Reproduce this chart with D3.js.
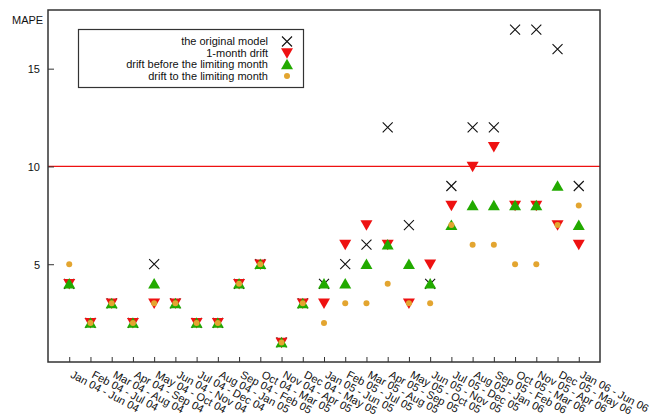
<!DOCTYPE html>
<html>
<head>
<meta charset="utf-8">
<script src="https://cdn.jsdelivr.net/npm/d3@7"></script>
<style>
  html, body { margin: 0; padding: 0; background: #fff; }
  text { font-family: "Liberation Sans", Arial, sans-serif; font-size: 11px; fill: #111; }
</style>
</head>
<body>
<svg id="chart" width="651" height="417"></svg>
<script>
// Rolling six-month evaluation windows
const windows = [
  "Jan 04 - Jun 04", "Feb 04 - Jul 04", "Mar 04 - Aug 04", "Apr 04 - Sep 04",
  "May 04 - Oct 04", "Jun 04 - Nov 04", "Jul 04 - Dec 04", "Aug 04 - Jan 05",
  "Sep 04 - Feb 05", "Oct 04 - Mar 05", "Nov 04 - Apr 05", "Dec 04 - May 05",
  "Jan 05 - Jun 05", "Feb 05 - Jul 05", "Mar 05 - Aug 05", "Apr 05 - Sep 05",
  "May 05 - Oct 05", "Jun 05 - Nov 05", "Jul 05 - Dec 05", "Aug 05 - Jan 06",
  "Sep 05 - Feb 06", "Oct 05 - Mar 06", "Nov 05 - Apr 06", "Dec 05 - May 06",
  "Jan 06 - Jun 06"
];

// MAPE per window for each model variant
const originalModel  = [4, 2, 3, 2, 5, 3, 2, 2, 4, 5, 1, 3, 4, 5, 6, 12, 7, 4, 9, 12, 12, 17, 17, 16, 9];
const oneMonthDrift  = [4, 2, 3, 2, 3, 3, 2, 2, 4, 5, 1, 3, 3, 6, 7, 6, 3, 5, 8, 10, 11, 8, 8, 7, 6];
const driftBefore    = [4, 2, 3, 2, 4, 3, 2, 2, 4, 5, 1, 3, 4, 4, 5, 6, 5, 4, 7, 8, 8, 8, 8, 9, 7];
const driftToLimit   = [5, 2, 3, 2, 3, 3, 2, 2, 4, 5, 1, 3, 2, 3, 3, 4, 3, 3, 7, 6, 6, 5, 5, 7, 8];

const yTicks = [5, 10, 15];
const threshold = 10;

const legendLabels = [
  "the original model",
  "1-month drift",
  "drift before the limiting month",
  "drift to the limiting month"
];

const margin = { left: 48, top: 10, right: 600, bottom: 362 };
const svg = d3.select("#chart");

const x = d3.scaleLinear().domain([-1, windows.length]).range([margin.left, margin.right]);
const y = d3.scaleLinear().domain([0, 18]).range([margin.bottom, margin.top]);

const RED = "#ee1111", GREEN = "#22aa00", ORANGE = "#e3a530";

// threshold line
svg.append("line")
  .attr("x1", margin.left).attr("x2", margin.right)
  .attr("y1", y(threshold)).attr("y2", y(threshold))
  .attr("stroke", RED).attr("stroke-width", 1.2);

// axes with inward ticks
const xAxis = d3.axisBottom(x)
  .tickValues(d3.range(windows.length))
  .tickSizeInner(-5).tickSizeOuter(0)
  .tickFormat(i => windows[i]);
const gx = svg.append("g").attr("transform", `translate(0,${margin.bottom})`).call(xAxis);
gx.select(".domain").remove();
gx.selectAll(".tick line").attr("stroke", "#333");
gx.selectAll(".tick text")
  .attr("text-anchor", "start")
  .attr("y", 0).attr("dy", 0)
  .attr("transform", "translate(0,15) rotate(28)");

const yAxis = d3.axisLeft(y).tickValues(yTicks).tickSizeInner(-6).tickSizeOuter(0);
const gy = svg.append("g").attr("transform", `translate(${margin.left},0)`).call(yAxis);
gy.select(".domain").remove();
gy.selectAll(".tick line").attr("stroke", "#333");
gy.selectAll(".tick text").attr("x", -8).attr("dy", "0.35em");

// frame
svg.append("rect")
  .attr("x", margin.left).attr("y", margin.top)
  .attr("width", margin.right - margin.left).attr("height", margin.bottom - margin.top)
  .attr("fill", "none").attr("stroke", "#333").attr("stroke-width", 1.5);

svg.append("text").attr("x", 12).attr("y", 24).text("MAPE");

// marker painters
const crossPath = (s) => `M${-s},${-s}L${s},${s}M${-s},${s}L${s},${-s}`;
const downTri = (s) => `M${-s},${-s * 0.8}L${s},${-s * 0.8}L0,${s * 0.95}Z`;
const upTri = (s) => `M${-s},${s * 0.8}L${s},${s * 0.8}L0,${-s * 0.95}Z`;

function drawCross(g, cx, cy) {
  g.append("path").attr("transform", `translate(${cx},${cy})`).attr("d", crossPath(5))
    .attr("stroke", "#111").attr("stroke-width", 1.1).attr("fill", "none");
}
function drawDown(g, cx, cy) {
  g.append("path").attr("transform", `translate(${cx},${cy})`).attr("d", downTri(6)).attr("fill", RED);
}
function drawUp(g, cx, cy) {
  g.append("path").attr("transform", `translate(${cx},${cy})`).attr("d", upTri(6)).attr("fill", GREEN);
}
function drawDot(g, cx, cy) {
  g.append("circle").attr("cx", cx).attr("cy", cy).attr("r", 3).attr("fill", ORANGE);
}

const marks = svg.append("g");
originalModel.forEach((v, i) => drawCross(marks, x(i), y(v)));
oneMonthDrift.forEach((v, i) => drawDown(marks, x(i), y(v)));
driftBefore.forEach((v, i) => drawUp(marks, x(i), y(v)));
driftToLimit.forEach((v, i) => drawDot(marks, x(i), y(v)));

// legend
const legend = svg.append("g");
legend.append("rect").attr("x", 78.5).attr("y", 29.5).attr("width", 225).attr("height", 58)
  .attr("fill", "#fff").attr("stroke", "#333").attr("stroke-width", 1.2);
const painters = [drawCross, drawDown, drawUp, drawDot];
legendLabels.forEach((lab, k) => {
  const cy = 41.5 + k * 11.5;
  legend.append("text").attr("x", 268).attr("y", cy).attr("dy", "0.35em")
    .attr("text-anchor", "end").text(lab);
  painters[k](legend, 287, cy);
});
</script>
</body>
</html>
